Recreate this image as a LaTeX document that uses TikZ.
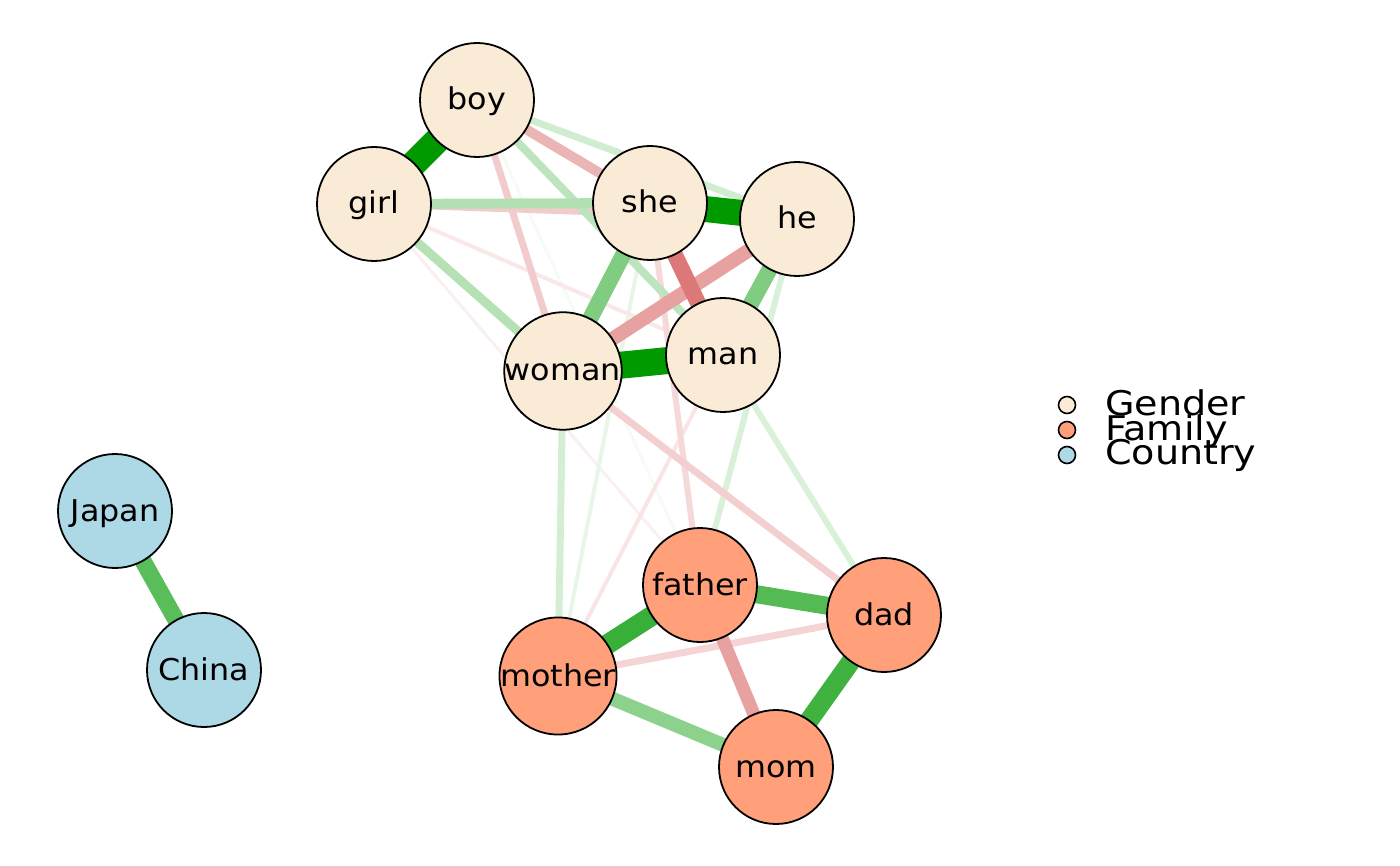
\documentclass[tikz,border=0pt]{standalone}
\usepackage{fontspec}
\setmainfont{DejaVu Sans}
\definecolor{pos}{HTML}{009900}
\definecolor{neg}{HTML}{BF0000}
\definecolor{gend}{HTML}{FAEBD7}
\definecolor{fam}{HTML}{FFA07A}
\definecolor{ctry}{HTML}{ADD8E6}
\pgfdeclarelayer{background}
\pgfsetlayers{background,main}
\tikzset{
  gnode/.style={circle, draw=black, line width=1.8pt, minimum size=114pt, inner sep=0pt, outer sep=0pt,
    font=\fontsize{30}{30}\selectfont, text height=20pt, text depth=0pt},
  pe/.style 2 args={draw=pos!#1!white, line width=#2pt},
  ne/.style 2 args={draw=neg!#1!white, line width=#2pt},
  lgc/.style={circle, draw=black, line width=1.6pt, minimum size=17pt, inner sep=0pt},
  lgt/.style={anchor=base west, inner sep=0pt, font=\fontsize{34}{34}\selectfont},
}
\newcommand{\wl}[1]{\scalebox{1.06}[1]{#1}}
\newcommand{\wg}[1]{\scalebox{1.12}[1]{#1}}
\begin{document}
\begin{tikzpicture}[x=1pt,y=-1pt]
\useasboundingbox (0,0) rectangle (1400,866);
% nodes
\node[gnode, fill=gend] (boy) at (477,100) {\wl{boy}};
\node[gnode, fill=gend] (girl) at (374,204) {\wl{girl}};
\node[gnode, fill=gend] (she) at (650,203) {\wl{she}};
\node[gnode, fill=gend] (he) at (797,219) {\wl{he}};
\node[gnode, fill=gend] (woman) at (563,371) {\wl{woman}};
\node[gnode, fill=gend] (man) at (723,355) {\wl{man}};
\node[gnode, fill=ctry] (japan) at (115,511) {\wl{Japan}};
\node[gnode, fill=ctry] (china) at (204,670) {\wl{China}};
\node[gnode, fill=fam] (father) at (700,585) {\wl{father}};
\node[gnode, fill=fam] (dad) at (884,615) {\wl{dad}};
\node[gnode, fill=fam] (mother) at (558,676) {\wl{mother}};
\node[gnode, fill=fam] (mom) at (776,767) {\wl{mom}};
% edges
\begin{pgfonlayer}{background}
\draw[pe={4}{3}] (boy.center) -- (father.center);
\draw[ne={6}{3}] (girl.center) -- (father.center);
\draw[pe={9}{4}] (she.center) -- (mother.center);
\draw[ne={9}{4}] (girl.center) -- (man.center);
\draw[ne={10}{4}] (man.center) -- (mother.center);
\draw[pe={15}{6}] (man.center) -- (dad.center);
\draw[pe={15}{6}] (he.center) -- (father.center);
\draw[ne={15}{6}] (she.center) -- (father.center);
\draw[pe={17}{7}] (woman.center) -- (mother.center);
\draw[ne={17}{7}] (mother.center) -- (dad.center);
\draw[pe={18}{7}] (boy.center) -- (he.center);
\draw[ne={19}{7}] (woman.center) -- (dad.center);
\draw[ne={20}{7}] (boy.center) -- (woman.center);
\draw[ne={20}{7}] (girl.center) -- (he.center);
\draw[pe={26}{8}] (boy.center) -- (man.center);
\draw[pe={29}{9}] (girl.center) -- (woman.center);
\draw[ne={29}{10}] (boy.center) -- (she.center);
\draw[pe={30}{10}] (girl.center) -- (she.center);
\draw[ne={37}{14}] (he.center) -- (woman.center);
\draw[ne={37}{13}] (father.center) -- (mom.center);
\draw[pe={45}{14}] (mother.center) -- (mom.center);
\draw[pe={50}{16}] (she.center) -- (woman.center);
\draw[pe={50}{16}] (he.center) -- (man.center);
\draw[ne={53}{16}] (she.center) -- (man.center);
\draw[pe={65}{17}] (japan.center) -- (china.center);
\draw[pe={67}{18}] (father.center) -- (dad.center);
\draw[pe={75}{19}] (dad.center) -- (mom.center);
\draw[pe={78}{20}] (mother.center) -- (father.center);
\draw[pe={100}{26}] (she.center) -- (he.center);
\draw[pe={100}{27}] (man.center) -- (woman.center);
\draw[pe={100}{26}] (boy.center) -- (girl.center);
\end{pgfonlayer}
% legend
\node[lgc, fill=gend] (lg1) at (1067,405) {};
\node[lgc, fill=fam] (lg2) at (1067,430) {};
\node[lgc, fill=ctry] (lg3) at (1067,455) {};
\node[lgt] (lt1) at (1105,415) {\wg{Gender}};
\node[lgt] (lt2) at (1105,440) {\wg{Family}};
\node[lgt] (lt3) at (1105,464) {\wg{Country}};
\end{tikzpicture}
\end{document}
